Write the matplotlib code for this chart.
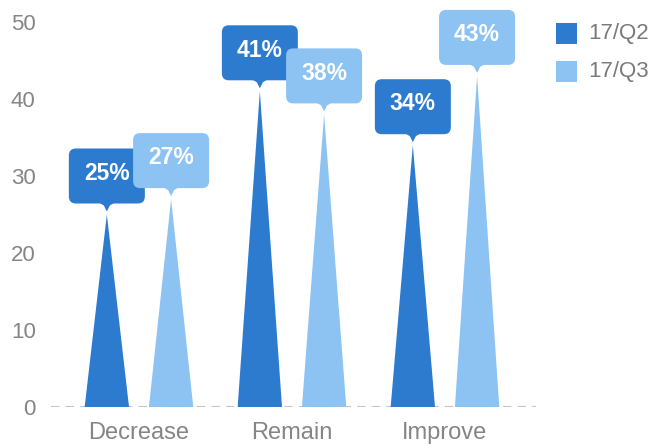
import numpy as np
import matplotlib
matplotlib.use("Agg")
import matplotlib.pyplot as plt
import matplotlib.transforms as mtransforms
from matplotlib.patches import FancyBboxPatch, Polygon, Rectangle

categories = ["Decrease", "Remain", "Improve"]
series = ["17/Q2", "17/Q3"]
q2_values = [25, 41, 34]
q3_values = [27, 38, 43]
colors = ["#2c7bcf", "#8cc3f3"]
yticks = [0, 10, 20, 30, 40, 50]

plt.rcParams['font.family'] = ['Liberation Sans', 'DejaVu Sans']
gray = "#858585"

W, H = 666, 445
fig = plt.figure(figsize=(W / 100, H / 100), dpi=100)
ax = fig.add_axes([51 / W, (H - 407) / H, (536 - 51) / W, (407 - 22) / H])
ax.set_xlim(-0.575, 2.595)
ax.set_ylim(0, 50)
for s in ax.spines.values():
    s.set_visible(False)
ax.set_yticks(yticks)
ax.set_xticks(range(len(categories)))
ax.set_xticklabels(categories)
ax.tick_params(axis='y', length=0, pad=11, labelsize=16, labelcolor=gray)
ax.tick_params(axis='x', length=0, pad=11, labelsize=17, labelcolor=gray)
ax.axhline(0, color="#c4c4c4", lw=1.5, ls=(0, (4, 3)), zorder=1)

offset = 0.21
half_w = 0.145


def callout(x, v, color, label):
    # box geometry in inches, anchored at the spike tip
    trans = fig.dpi_scale_trans + mtransforms.ScaledTranslation(x, v, ax.transData)
    bw, bh, b0 = 0.76, 0.55, 0.11
    box = FancyBboxPatch((-bw / 2, b0), bw, bh,
                         boxstyle="round,pad=0,rounding_size=0.07",
                         fc=color, ec="none", transform=trans, zorder=4, clip_on=False)
    tail = Polygon([(-0.08, b0 + 0.01), (-0.03, b0 - 0.02), (0, 0.03),
                    (0.03, b0 - 0.02), (0.08, b0 + 0.01)],
                   closed=True, fc=color, ec="none", transform=trans, zorder=4, clip_on=False)
    ax.add_patch(box)
    ax.add_patch(tail)
    ax.text(0, b0 + bh * 0.55, label, transform=trans, ha="center", va="center",
            color="white", fontsize=16.5, fontweight="bold", zorder=5, clip_on=False)


for i, cat in enumerate(categories):
    for j, vals in enumerate([q2_values, q3_values]):
        xc = i + (j * 2 - 1) * offset
        v = vals[i]
        ax.add_patch(Polygon([(xc - half_w, 0), (xc + half_w, 0), (xc, v)],
                             closed=True, fc=colors[j], ec="none", zorder=2))
        callout(xc, v, colors[j], f"{v}%")

# legend
for j, name in enumerate(series):
    top = 23 + j * 38
    fig.add_artist(Rectangle((556 / W, 1 - (top + 21) / H), 21 / W, 21 / H,
                             transform=fig.transFigure, fc=colors[j], ec="none"))
    fig.text(588 / W, 1 - (top + 10.5) / H, name, ha="left", va="center",
             fontsize=16, color="#7a7a7a")

fig.savefig("out.png", dpi=100)
